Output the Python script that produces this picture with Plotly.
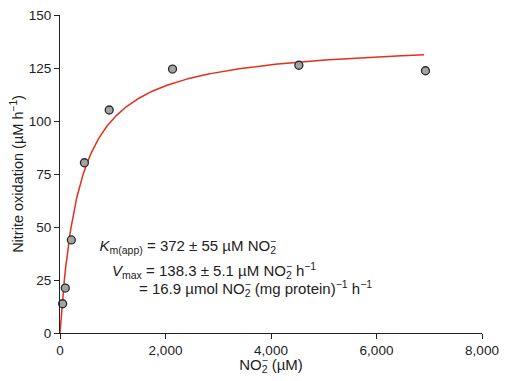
import plotly.graph_objects as go

# ---- data ----
no2_uM = [50, 100, 215, 463, 933, 2133, 4528, 6928]
rate_uM_h = [13.8, 21.2, 43.9, 80.3, 105.2, 124.5, 126.3, 123.7]

# Michaelis-Menten fit parameters printed on the chart
KM = 372.0
VMAX = 138.3
fit_x_max = 6900

x_ticks = [0, 2000, 4000, 6000, 8000]
x_ticklabels = ["0", "2,000", "4,000", "6,000", "8,000"]
y_ticks = [0, 25, 50, 75, 100, 125, 150]

n = 400
fit_x = [fit_x_max * i / (n - 1) for i in range(n)]
fit_y = [VMAX * s / (KM + s) for s in fit_x]

FONT = "Liberation Sans, Arial, Helvetica, sans-serif"
TXT = 15  # annotation font size

# ---- geometry in page pixels (the page body has an 8px margin) ----
OFF = 8
W, H = 517 - OFF, 381 - OFF
PLOT_L, PLOT_R, PLOT_T, PLOT_B = 60, 482, 15, 333

# Arial / Liberation Sans advance widths (1/1000 em)
AW = {' ': 278, '=': 584, '.': 278, ',': 278, '±': 549, 'µ': 577, 'M': 833,
      'N': 722, 'O': 778, 'h': 556, 'm': 833, 'o': 556, 'l': 222, '(': 333,
      ')': 333, 'g': 556, 'p': 556, 'r': 333, 't': 278, 'e': 556, 'i': 222,
      'n': 556, 'K': 667, 'V': 667, 'a': 556, 'x': 500, '−': 584}


def w(s, size, scale=1.0):
    return sum(AW.get(c, 556) for c in s) * size * scale / 1000.0


SUB = 0.7
seg_x, seg_y, seg_t = [], [], []


def seg(px, baseline, text):
    seg_x.append(px)
    seg_y.append(baseline - 0.33 * TXT)
    seg_t.append(text)


# line 1
x0, b = 99.5, 252
a = w("K", TXT) + w("m(app)", TXT, SUB) + w(" = 372 ± 55 µM NO", TXT)
seg(x0, b, "<i>K</i><sub>m(app)</sub> = 372 ± 55 µM NO<sub>2</sub>")
seg(x0 + a, b, "<sup>−</sup>")
# line 2
x0, b = 112, 277
a = w("V", TXT) + w("max", TXT, SUB) + w(" = 138.3 ± 5.1 µM NO", TXT)
seg(x0, b, "<i>V</i><sub>max</sub> = 138.3 ± 5.1 µM NO<sub>2</sub>")
seg(x0 + a, b, "<sup>−</sup>")
seg(x0 + a + w("2", TXT, SUB) + w(" ", TXT), b, "h<sup>−1</sup>")
# line 3
x0, b = 139, 295
a = w("= 16.9 µmol NO", TXT)
seg(x0, b, "= 16.9 µmol NO<sub>2</sub>")
seg(x0 + a, b, "<sup>−</sup>")
seg(x0 + a + w("2", TXT, SUB) + w(" ", TXT), b, "(mg protein)<sup>−1</sup> h<sup>−1</sup>")
# x-axis title (stacked sub/superscript)
xt_w = w("NO", TXT) + w("2", TXT, SUB) + w(" (µM)", TXT)
x0, b = (PLOT_L + PLOT_R) / 2 - xt_w / 2, 371
seg(x0, b, "NO<sub>2</sub>")
seg(x0 + w("NO", TXT), b, "<sup>−</sup>")
seg(x0 + w("NO", TXT) + w("2", TXT, SUB) + w(" ", TXT), b, "(µM)")

fig = go.Figure()
fig.add_trace(go.Scatter(x=fit_x, y=fit_y, mode="lines",
                         line=dict(color="#e0301e", width=1.5),
                         hoverinfo="skip", showlegend=False))
fig.add_trace(go.Scatter(x=no2_uM, y=rate_uM_h, mode="markers",
                         marker=dict(size=8, color="#a3a3a3",
                                     line=dict(color="#2a2a2a", width=1.3)),
                         showlegend=False, cliponaxis=False))
# text layer on a full-page pixel overlay
fig.add_trace(go.Scatter(x=seg_x, y=seg_y, text=seg_t, mode="text",
                         xaxis="x2", yaxis="y2",
                         textposition="middle right",
                         textfont=dict(family=FONT, size=TXT, color="#222"),
                         hoverinfo="skip", showlegend=False, cliponaxis=False))

fig.update_layout(
    width=W, height=H,
    margin=dict(l=0, r=0, t=0, b=0),
    paper_bgcolor="white", plot_bgcolor="rgba(0,0,0,0)",
    font=dict(family=FONT, size=14, color="#222"),
    xaxis=dict(domain=[(PLOT_L - OFF) / W, (PLOT_R - OFF) / W],
               range=[0, 8000], tickvals=x_ticks, ticktext=x_ticklabels,
               showgrid=False, zeroline=False, showline=True, automargin=False,
               linecolor="#222", linewidth=1, ticks="outside", ticklen=5,
               tickcolor="#222", tickfont=dict(size=13.5), anchor="y"),
    yaxis=dict(domain=[(381 - PLOT_B) / H, (381 - PLOT_T) / H],
               range=[0, 150], tickvals=y_ticks,
               showgrid=False, zeroline=False, showline=True, automargin=False,
               linecolor="#222", linewidth=1, ticks="outside", ticklen=5,
               tickcolor="#222", tickfont=dict(size=13.5), anchor="x",
               ticklabeloverflow="allow",
               title=dict(text="Nitrite oxidation (µM h<sup>−1</sup>)",
                          standoff=8, font=dict(size=14.5))),
    xaxis2=dict(domain=[0, 1], range=[OFF, 517], visible=False,
                fixedrange=True, anchor="y2"),
    yaxis2=dict(domain=[0, 1], range=[381, OFF], visible=False,
                fixedrange=True, anchor="x2"),
)

fig.write_html("out.html")
